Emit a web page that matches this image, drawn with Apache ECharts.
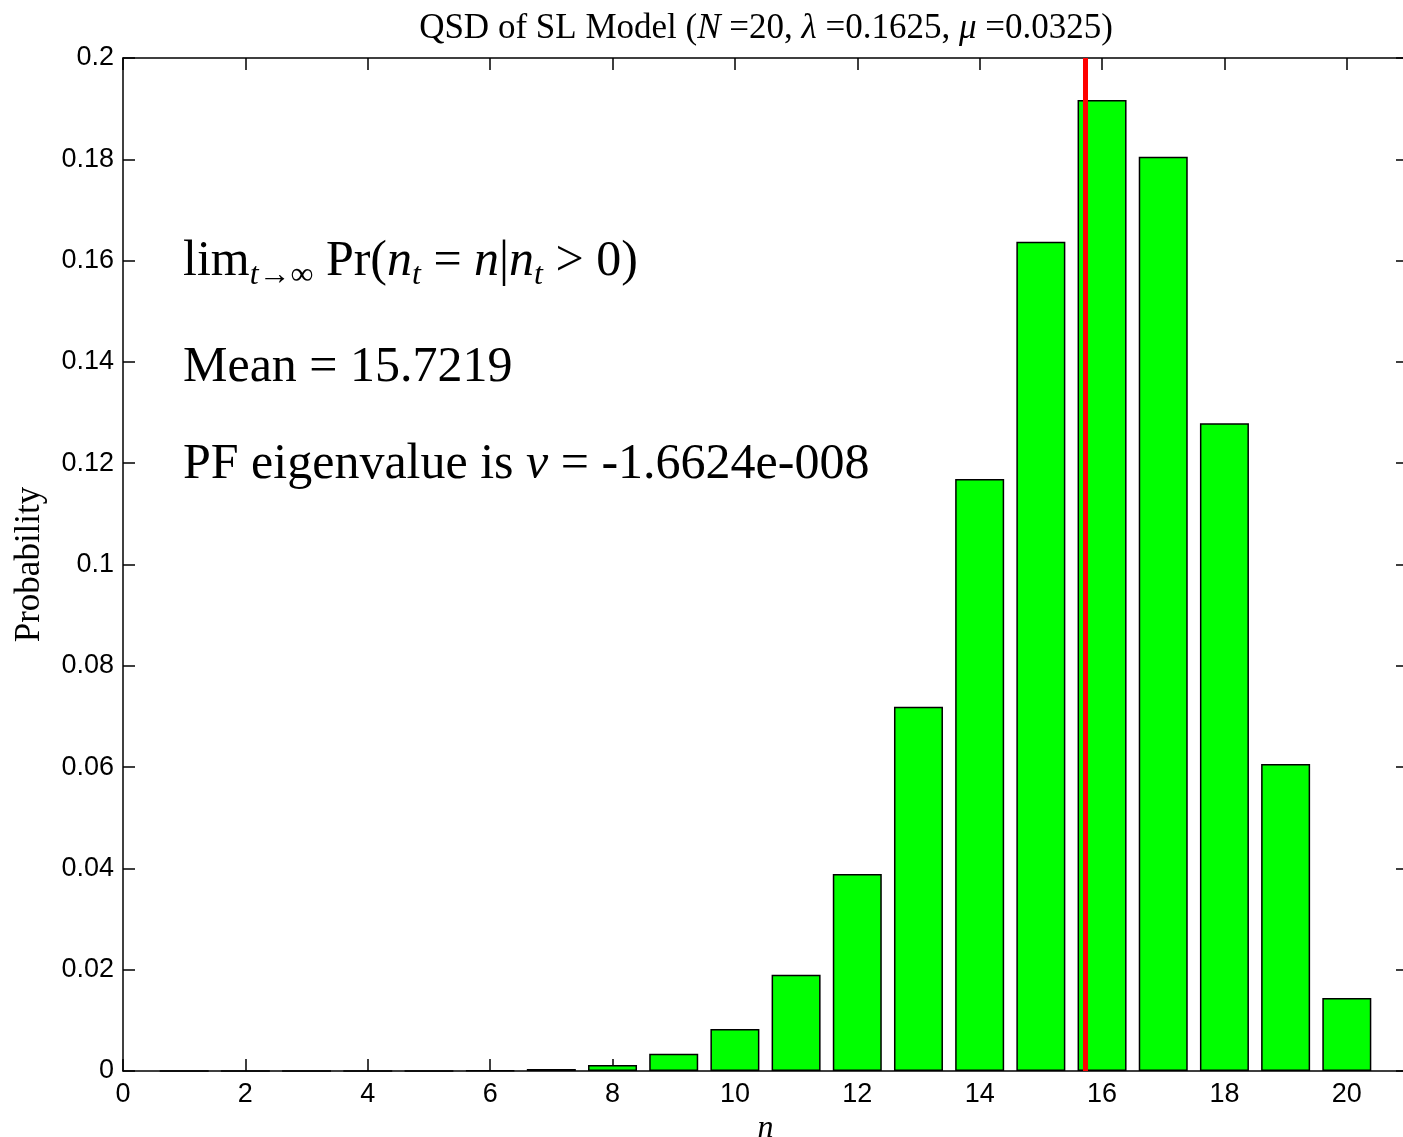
<!DOCTYPE html>
<html>
<head>
<meta charset="utf-8">
<script src="https://cdn.jsdelivr.net/npm/echarts@6/dist/echarts.min.js"></script>
<style>
html,body{margin:0;padding:0;background:#fff;}
#chart{width:1403px;height:1137px;}
</style>
</head>
<body>
<div id="chart"></div>
<script>
const nValues = [1, 2, 3, 4, 5, 6, 7, 8, 9, 10, 11, 12, 13, 14, 15, 16, 17, 18, 19, 20];
const probabilities = [0.00000, 0.00000, 0.00001, 0.00002, 0.00004, 0.0001, 0.0004, 0.0012, 0.0034, 0.0083,
  0.0190, 0.0389, 0.0719, 0.1169, 0.1637, 0.1917, 0.1805, 0.1279, 0.0606, 0.0144];
const meanValue = 15.7219;
const xTicks = [0, 2, 4, 6, 8, 10, 12, 14, 16, 18, 20];

const chart = echarts.init(document.getElementById('chart'), null, {renderer: 'canvas'});
const serif = '"Liberation Serif", "DejaVu Serif", serif';
const sans = '"Liberation Sans", Arial, sans-serif';

const FS = 50;
const main = {fontFamily: serif, fontSize: FS, color: '#000', lineHeight: 64};
const mainI = Object.assign({}, main, {fontStyle: 'italic'});
const sub = {fontFamily: serif, fontSize: 32, color: '#000', padding: [28, 0, 0, 0]};
const subI = Object.assign({}, sub, {fontStyle: 'italic'});

const option = {
  animation: false,
  backgroundColor: '#fff',
  title: {
    text: 'QSD of SL Model ({i|N} =20, {i|λ} =0.1625, {i|μ} =0.0325)',
    left: 761, top: 6, textAlign: 'center',
    textStyle: {
      fontFamily: serif, fontSize: 35, fontWeight: 'normal', color: '#000',
      rich: {i: {fontFamily: serif, fontSize: 35, fontStyle: 'italic', color: '#000'}}
    }
  },
  grid: {left: 123, top: 58, width: 1285, height: 1013, outerBoundsMode: 'none', containLabel: false},
  xAxis: [{
    type: 'value', min: 0, max: 21, interval: 2, position: 'bottom',
    name: 'n', nameLocation: 'middle', nameGap: 42,
    nameTextStyle: {fontFamily: serif, fontStyle: 'italic', fontSize: 32, color: '#000'},
    axisLine: {show: true, onZero: false, lineStyle: {color: '#000', width: 1.5}},
    axisTick: {show: true, inside: true, length: 12, lineStyle: {color: '#000', width: 1.5}},
    axisLabel: {fontFamily: sans, fontSize: 27, color: '#000', margin: 10,
      formatter: v => xTicks.indexOf(v) >= 0 ? String(v) : ''},
    splitLine: {show: false}
  }, {
    type: 'value', min: 0, max: 21, interval: 2, position: 'top',
    axisLine: {show: true, onZero: false, lineStyle: {color: '#000', width: 1.5}},
    axisTick: {show: true, inside: true, length: 12, lineStyle: {color: '#000', width: 1.5}},
    axisLabel: {show: false}, splitLine: {show: false}
  }],
  yAxis: [{
    type: 'value', min: 0, max: 0.2, interval: 0.02, position: 'left',
    name: 'Probability', nameLocation: 'middle', nameGap: 76, nameRotate: 90,
    nameTextStyle: {fontFamily: serif, fontSize: 35, color: '#000'},
    axisLine: {show: true, onZero: false, lineStyle: {color: '#000', width: 1.5}},
    axisTick: {show: true, inside: true, length: 12, lineStyle: {color: '#000', width: 1.5}},
    axisLabel: {fontFamily: sans, fontSize: 27, color: '#000', margin: 9},
    splitLine: {show: false}
  }, {
    type: 'value', min: 0, max: 0.2, interval: 0.02, position: 'right',
    axisLine: {show: true, onZero: false, lineStyle: {color: '#000', width: 1.5}},
    axisTick: {show: true, inside: true, length: 12, lineStyle: {color: '#000', width: 1.5}},
    axisLabel: {show: false}, splitLine: {show: false}
  }],
  series: [{
    type: 'bar',
    xAxisIndex: 0, yAxisIndex: 0,
    data: nValues.map((n, i) => [n, probabilities[i]]),
    barWidth: 49,
    itemStyle: {color: '#00ff00', borderColor: '#000', borderWidth: 1.5},
    markLine: {
      silent: true, symbol: 'none', label: {show: false},
      lineStyle: {color: '#ff0000', width: 5, type: 'solid'},
      data: [{xAxis: meanValue}]
    }
  }],
  graphic: [{
    type: 'text', left: 183, top: 237,
    style: {
      text: 'lim{si|t}{s|→∞} Pr({i|n}{si|t} = {i|n}|{i|n}{si|t} > 0)',
      font: FS + 'px ' + serif, fill: '#000',
      rich: {s: sub, si: subI, i: mainI}
    }
  }, {
    type: 'text', left: 183, top: 343,
    style: {text: 'Mean = 15.7219', font: FS + 'px ' + serif, fill: '#000'}
  }, {
    type: 'text', left: 183, top: 440,
    style: {
      text: 'PF eigenvalue is {i|ν} = -1.6624e-008',
      font: FS + 'px ' + serif, fill: '#000',
      rich: {i: mainI}
    }
  }]
};
chart.setOption(option);
</script>
</body>
</html>
